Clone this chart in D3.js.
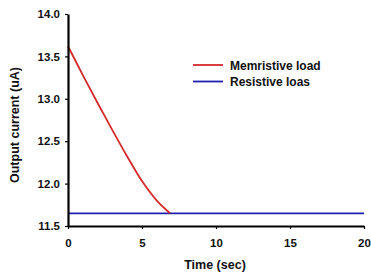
<!DOCTYPE html>
<html>
<head>
<meta charset="utf-8">
<script src="https://cdn.jsdelivr.net/npm/d3@7"></script>
<style>
  body { margin: 0; background: #fff; }
  text { font-family: "Liberation Sans", Arial, sans-serif; font-weight: bold; fill: #111; }
</style>
</head>
<body>
<svg width="371" height="273"></svg>
<script>
const memTime = [0, 1, 2, 3, 4, 5, 6, 6.9]
const memCurrent = [13.62, 13.28, 12.95, 12.63, 12.32, 12.03, 11.80, 11.65]
const resTime = [0, 20]
const resCurrent = [11.65, 11.65]
const xTicks = [0, 5, 10, 15, 20]
const yTicks = [11.5, 12.0, 12.5, 13.0, 13.5, 14.0]
const seriesNames = ['Memristive load', 'Resistive loas']
const seriesColors = ['#d42a2a', '#2020b0']

const svg = d3.select('svg')
const width = +svg.attr('width')
const height = +svg.attr('height')
const margin = {top: 14, right: 7, bottom: 47, left: 68}
const innerWidth = width - margin.left - margin.right
const innerHeight = height - margin.top - margin.bottom

svg.append('rect').attr('width', width).attr('height', height).attr('fill', '#fff')

const xScale = d3.scaleLinear().domain([0, 20]).range([0, innerWidth])
const yScale = d3.scaleLinear().domain([11.5, 14]).range([innerHeight, 0])

const g = svg.append('g')
    .attr('transform', `translate(${margin.left},${margin.top})`)

const line = d3.line()
    .x(d => xScale(d[0]))
    .y(d => yScale(d[1]))

const memData = memTime.map((t, i) => [t, memCurrent[i]])
const resData = resTime.map((t, i) => [t, resCurrent[i]])

g.append('path').datum(resData)
    .attr('d', line)
    .attr('fill', 'none')
    .attr('stroke', seriesColors[1])
    .attr('stroke-width', 1.8)

g.append('path').datum(memData)
    .attr('d', line.curve(d3.curveCatmullRom))
    .attr('fill', 'none')
    .attr('stroke', seriesColors[0])
    .attr('stroke-width', 1.8)

const xAxis = g.append('g')
    .attr('transform', `translate(0,${innerHeight})`)
    .call(d3.axisBottom(xScale).tickValues(xTicks).tickSize(3).tickSizeOuter(0).tickPadding(10))
const yAxis = g.append('g')
    .call(d3.axisLeft(yScale).tickValues(yTicks).tickSize(3).tickSizeOuter(0).tickPadding(5).tickFormat(d3.format('.1f')))

for (const ax of [xAxis, yAxis]) {
    ax.select('.domain').attr('stroke', '#000').attr('stroke-width', 2.2)
    ax.selectAll('.tick line').attr('stroke', '#000').attr('stroke-width', 1.2)
    ax.selectAll('.tick text')
        .attr('font-family', '"Liberation Sans", Arial, sans-serif')
        .attr('font-weight', 'bold')
        .attr('font-size', 11.5)
        .attr('fill', '#111')
}

svg.append('text')
    .attr('x', margin.left + innerWidth / 2 - 1)
    .attr('y', 269)
    .attr('text-anchor', 'middle')
    .attr('font-size', 12.5)
    .text('Time (sec)')

svg.append('text')
    .attr('transform', `translate(19,${margin.top + 111}) rotate(-90)`)
    .attr('text-anchor', 'middle')
    .attr('font-size', 12.5)
    .text('Output current (uA)')

const legend = svg.append('g').attr('transform', 'translate(193,65)')
seriesNames.forEach((name, i) => {
    const row = legend.append('g').attr('transform', `translate(0,${i * 16.5})`)
    row.append('line')
        .attr('x1', 0).attr('x2', 30)
        .attr('stroke', seriesColors[i])
        .attr('stroke-width', 1.8)
    row.append('text')
        .attr('x', 37).attr('y', 4.5)
        .attr('font-size', 12)
        .text(name)
})
</script>
</body>
</html>
